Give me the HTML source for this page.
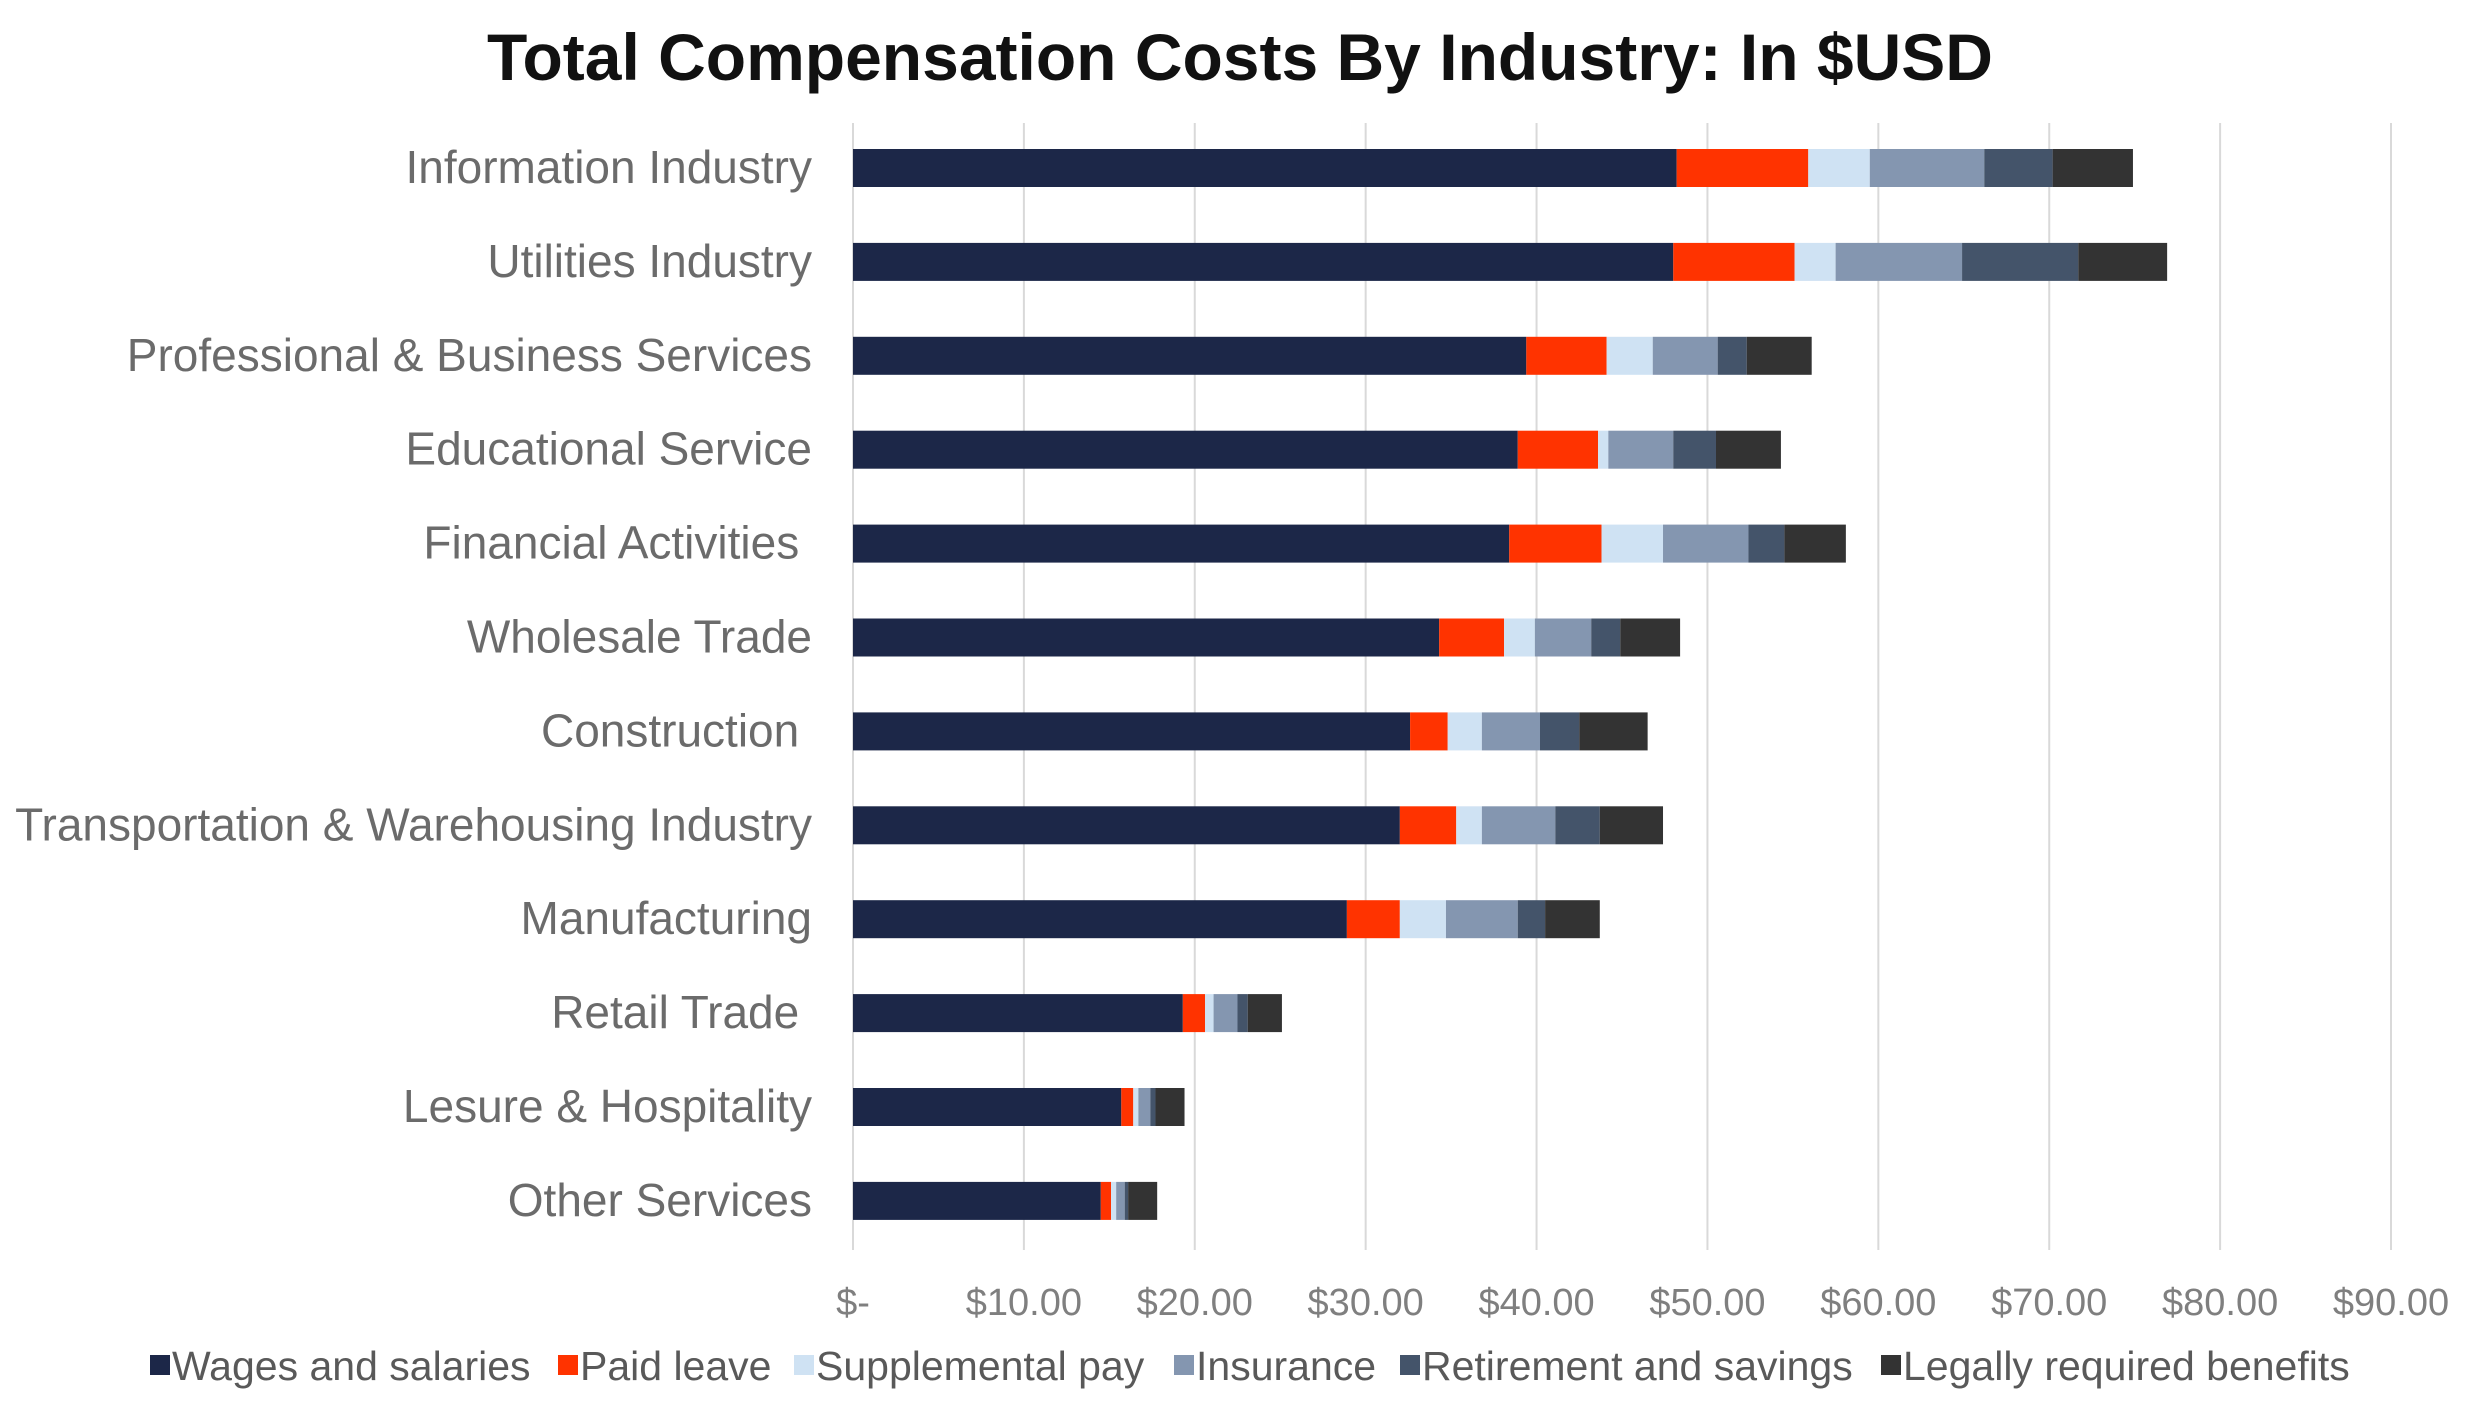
<!DOCTYPE html>
<html><head><meta charset="utf-8"><style>
html,body{margin:0;padding:0;background:#fff;}
svg{display:block;font-family:"Liberation Sans",sans-serif;}
text{white-space:pre;}
</style></head><body>
<svg id="chart" width="2481" height="1410" viewBox="0 0 2481 1410">
<rect x="0" y="0" width="2481" height="1410" fill="#fff"/>
<text x="1240" y="80" text-anchor="middle" font-size="66" font-weight="bold" fill="#111">Total Compensation Costs By Industry: In $USD</text>
<g id="grid"></g><g id="bars"></g><g id="cats"></g><g id="ticks"></g><g id="legend"></g>
</svg>
<script>
const categories=["Information Industry","Utilities Industry","Professional & Business Services","Educational Service","Financial Activities ","Wholesale Trade","Construction ","Transportation & Warehousing Industry","Manufacturing","Retail Trade ","Lesure & Hospitality","Other Services"];
const seriesNames=["Wages and salaries","Paid leave","Supplemental pay","Insurance","Retirement and savings","Legally required benefits"];
const wages=[48.2,48.0,39.4,38.9,38.4,34.3,32.6,32.0,28.9,19.3,15.7,14.5];
const paidLeave=[7.7,7.1,4.7,4.7,5.4,3.8,2.2,3.3,3.1,1.3,0.7,0.6];
const supplemental=[3.6,2.4,2.7,0.6,3.6,1.8,2.0,1.5,2.7,0.5,0.3,0.3];
const insurance=[6.7,7.4,3.8,3.8,5.0,3.3,3.4,4.3,4.2,1.4,0.7,0.5];
const retirement=[4.0,6.8,1.7,2.5,2.1,1.7,2.3,2.6,1.6,0.6,0.3,0.2];
const legal=[4.7,5.2,3.8,3.8,3.6,3.5,4.0,3.7,3.2,2.0,1.7,1.7];
const tickValues=[0,10,20,30,40,50,60,70,80,90];
const tickLabels=["$-","$10.00","$20.00","$30.00","$40.00","$50.00","$60.00","$70.00","$80.00","$90.00"];
const colors=["#1c2748","#ff3300","#cfe2f3","#8496b0","#44546a","#333333"];
const NS="http://www.w3.org/2000/svg";
const X0=853,X1=2391,MAX=90,TOP=123,BOT=1250,Y0=168,STEP=93.9,BH=38;
const x=v=>X0+(X1-X0)*v/MAX;
const y=i=>Y0+STEP*i;
function mk(tag,attrs,parent){const e=document.createElementNS(NS,tag);for(const k in attrs)e.setAttribute(k,attrs[k]);parent.appendChild(e);return e;}
const G=id=>document.getElementById(id);
tickValues.forEach((t,i)=>{
  const l=mk("line",{x1:x(t),x2:x(t),y1:TOP,y2:BOT,stroke:"#d9d9d9","stroke-width":2},G("grid"));
  
  
  const tx=mk("text",{x:x(t),y:1315,"text-anchor":"middle","font-size":38,fill:"#7f7f7f"},G("ticks"));
  tx.textContent=tickLabels[i];
  
  
});
const all=[wages,paidLeave,supplemental,insurance,retirement,legal];
categories.forEach((c,i)=>{
  let acc=0;
  all.forEach((s,k)=>{
    const r=mk("rect",{x:x(acc),y:y(i)-BH/2,width:x(acc+s[i])-x(acc),height:BH,fill:colors[k]},G("bars"));
    
    
    acc+=s[i];
  });
  const t=mk("text",{x:812,y:y(i)+15,"text-anchor":"end","font-size":46,fill:"#6b6b6b"},G("cats"));
  t.textContent=c;
  
  
});
const legX=[150,558,794,1174,1400,1881];
seriesNames.forEach((n,k)=>{
  const r=mk("rect",{x:legX[k],y:1355,width:20,height:20,fill:colors[k]},G("legend"));
  
  
  const t=mk("text",{x:legX[k]+22,y:1380,"font-size":41,fill:"#595959"},G("legend"));
  t.textContent=n;
  
  
});
</script>
</body></html>
